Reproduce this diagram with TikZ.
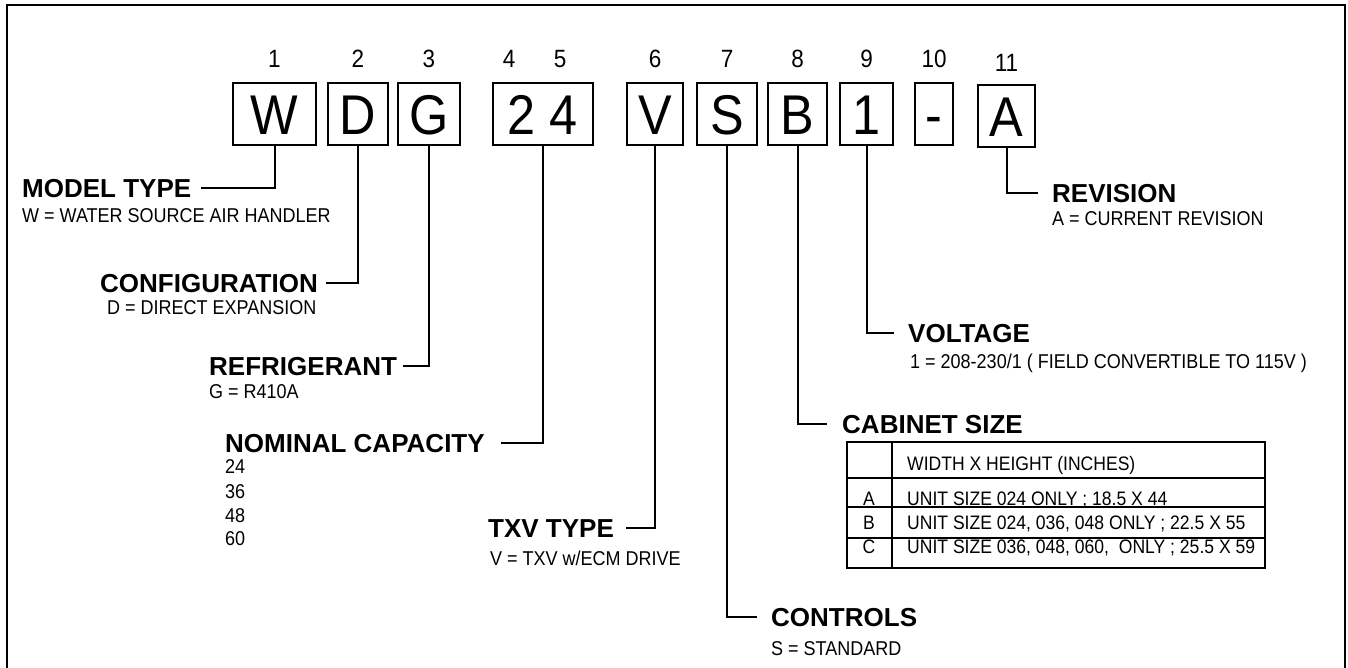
\documentclass[tikz,border=0pt]{standalone}
\usepackage{fontspec}
\setmainfont{Liberation Sans}
\newfontfamily\narrowfont[FakeStretch=0.9]{Liberation Sans}
\usetikzlibrary{positioning}

\begin{document}
\begin{tikzpicture}[x=1pt, y=-1pt,
    charbox/.style={draw, line width=2pt, minimum height=62pt, inner sep=0pt,
        text height=40pt, text depth=0pt, font=\narrowfont\fontsize{56}{60}\selectfont},
    digit/.style={inner sep=0pt, font=\narrowfont\fontsize{25}{28}\selectfont},
    head/.style={inner sep=0pt, anchor=base west, font=\bfseries\fontsize{26}{30}\selectfont},
    desc/.style={inner sep=0pt, anchor=base west, font=\narrowfont\fontsize{20}{24}\selectfont},
    cell/.style={inner sep=0pt, anchor=base west, font=\narrowfont\fontsize{19.5}{22}\selectfont},
    link/.style={line width=2pt}
]
\useasboundingbox (0,0) rectangle (1348,667);
\draw[line width=2.5pt] (7,672) -- (7,5) -- (1345,5) -- (1345,672);

% model number boxes
\node[charbox, minimum width=83pt] (W) at (274.5,114) {W};
\node[charbox, minimum width=60pt] (D) at (358,114) {D};
\node[charbox, minimum width=62pt] (G) at (429,114) {G};
\node[charbox, minimum width=100pt] (cap) at (543,114) {2 4};
\node[charbox, minimum width=56pt] (V) at (655,114) {V};
\node[charbox, minimum width=60pt] (S) at (727,114) {S};
\node[charbox, minimum width=59pt] (B) at (797.5,114) {B};
\node[charbox, minimum width=53pt] (one) at (866.5,114) {1};
\node[charbox, minimum width=38pt] (dash) at (934,114) {-};
\node[charbox, minimum width=57pt] (A) at (1006.5,116) {A};

% digit positions
\node[digit, above=14pt of W] (n1) {1};
\node[digit, above=14pt of D] (n2) {2};
\node[digit, above=14pt of G] (n3) {3};
\node[digit, above=14pt of cap, xshift=-34pt] (n4) {4};
\node[digit, above=14pt of cap, xshift=17pt] (n5) {5};
\node[digit, above=14pt of V] (n6) {6};
\node[digit, above=14pt of S] (n7) {7};
\node[digit, above=14pt of B] (n8) {8};
\node[digit, above=14pt of one] (n9) {9};
\node[digit, above=14pt of dash] (n10) {10};
\node[digit, above=12pt of A] (n11) {11};

% left side
\node[head] (mt) at (22,197) {MODEL TYPE};
\node[desc] (mtd) at (22,222) {W = WATER SOURCE AIR HANDLER};
\node[head] (cfg) at (100,292) {CONFIGURATION};
\node[desc] (cfgd) at (107,314) {D = DIRECT EXPANSION};
\node[head] (ref) at (209,375) {REFRIGERANT};
\node[desc] (refd) at (209,398) {G = R410A};
\node[head] (nom) at (225,452) {NOMINAL CAPACITY};
\node[desc] (c24) at (225,473) {24};
\node[desc] (c36) at (225,498) {36};
\node[desc] (c48) at (225,522) {48};
\node[desc] (c60) at (225,545) {60};
\node[head] (txv) at (488,537) {TXV TYPE};
\node[desc] (txvd) at (490,565) {V = TXV w/ECM DRIVE};

% right side
\node[head] (rev) at (1052,202) {REVISION};
\node[desc] (revd) at (1052,225) {A = CURRENT REVISION};
\node[head] (vol) at (908,342) {VOLTAGE};
\node[desc] (vold) at (910,368) {1 = 208-230/1 ( FIELD CONVERTIBLE TO 115V )};
\node[head] (cab) at (842,433) {CABINET SIZE};
\node[head] (ctl) at (771,626) {CONTROLS};
\node[desc] (ctld) at (771,655) {S = STANDARD};

% cabinet table
\draw[line width=2pt] (847,442) rectangle (1265,568);
\draw[line width=2pt] (892,442) -- (892,568);
\draw[line width=2pt] (847,478) -- (1265,478);
\draw[line width=2.5pt] (847,507) -- (1265,507);
\draw[line width=2.5pt] (847,538) -- (1265,538);
\node[cell] (hdr) at (907,470) {WIDTH X HEIGHT (INCHES)};
\node[cell, anchor=base] (ka) at (869,505) {A};
\node[cell] (ra) at (907,505) {UNIT SIZE 024 ONLY ; 18.5 X 44};
\node[cell, anchor=base] (kb) at (869,529) {B};
\node[cell] (rb) at (907,529) {UNIT SIZE 024, 036, 048 ONLY ; 22.5 X 55};
\node[cell, anchor=base] (kc) at (869,553) {C};
\node[cell] (rc) at (907,553) {UNIT SIZE 036, 048, 060,\ \ ONLY ; 25.5 X 59};

% leaders
\draw[link] (W.south) |- ([xshift=10pt]mt.east);
\draw[link] (D.south) |- ([xshift=8pt]cfg.east);
\draw[link] (G.south) |- ([xshift=6pt]ref.east);
\draw[link] (cap.south) |- ([xshift=16pt]nom.east);
\draw[link] (V.south) |- ([xshift=12pt]txv.east);
\draw[link] (S.south) |- ([xshift=-14pt]ctl.west);
\draw[link] (B.south) |- ([xshift=-15pt]cab.west);
\draw[link] (one.south) |- ([xshift=-14pt]vol.west);
\draw[link] (A.south) |- ([xshift=-14pt]rev.west);

\end{tikzpicture}
\end{document}
